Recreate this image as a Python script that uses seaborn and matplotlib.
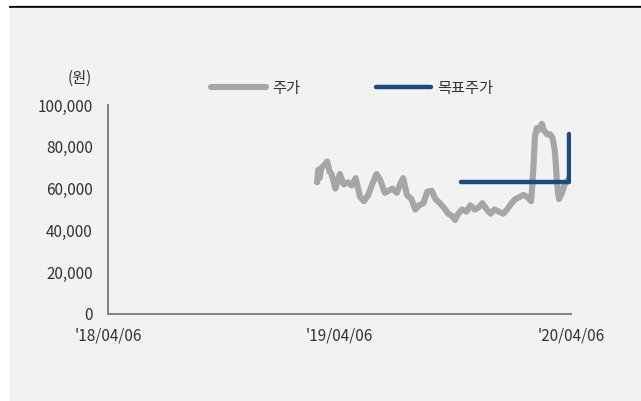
import pandas as pd
import numpy as np
import seaborn as sns
import matplotlib.pyplot as plt
from matplotlib.patches import Rectangle
from matplotlib.lines import Line2D

# 주가
price_dates = ['2019-03-02', '2019-03-04', '2019-03-06', '2019-03-09', '2019-03-13', '2019-03-18', '2019-03-22',
               '2019-03-25', '2019-03-31', '2019-04-07', '2019-04-13', '2019-04-20', '2019-04-26',
               '2019-05-02', '2019-05-09', '2019-05-15', '2019-05-22', '2019-05-28', '2019-06-04',
               '2019-06-10', '2019-06-17', '2019-06-23', '2019-06-29', '2019-07-06', '2019-07-11',
               '2019-07-16', '2019-07-22', '2019-07-29', '2019-08-04', '2019-08-10', '2019-08-17',
               '2019-08-23', '2019-08-30', '2019-09-05', '2019-09-12', '2019-09-18', '2019-09-25',
               '2019-10-01', '2019-10-06', '2019-10-11', '2019-10-17', '2019-10-24', '2019-10-30',
               '2019-11-06', '2019-11-12', '2019-11-18', '2019-11-25', '2019-12-01', '2019-12-07',
               '2019-12-14', '2019-12-21', '2019-12-27', '2020-01-03', '2020-01-09', '2020-01-16',
               '2020-01-22', '2020-01-28', '2020-02-03', '2020-02-05', '2020-02-07', '2020-02-09',
               '2020-02-12', '2020-02-15', '2020-02-20', '2020-02-23', '2020-02-28', '2020-03-04',
               '2020-03-08', '2020-03-11', '2020-03-13', '2020-03-15', '2020-03-18', '2020-03-23',
               '2020-03-27', '2020-04-01', '2020-04-03']
price_values = [63000, 69000, 65000, 70000, 71000, 73000, 68000,
                67000, 60000, 67000, 62000, 63000, 61500,
                65000, 56000, 54000, 57000, 62000, 67000,
                64000, 58000, 59000, 60000, 58000, 62000,
                65000, 57000, 55000, 50000, 52000, 53000,
                58500, 59000, 55000, 53000, 51000, 48000,
                47000, 45000, 48000, 50000, 49000, 52000,
                50000, 51000, 53000, 50000, 48000, 50000,
                49000, 48000, 50000, 53000, 55000, 56000,
                57000, 56000, 54000, 62000, 72000, 85000,
                89000, 88000, 91000, 88000, 86000, 86000,
                84000, 79000, 72000, 62000, 55000, 58000,
                62000, 64000, 65000]

# 목표주가
target_dates = ['2019-10-16', '2020-04-03', '2020-04-03']
target_values = [63000, 63000, 86000]

price = pd.DataFrame({'date': pd.to_datetime(price_dates), 'value': price_values})
target = pd.DataFrame({'date': pd.to_datetime(target_dates), 'value': target_values})

sns.set_style('white')
plt.rcParams['font.family'] = ['Noto Sans CJK KR', 'DejaVu Sans']

fig = plt.figure(figsize=(6.41, 4.01), dpi=100)
fig.patch.set_facecolor('white')
# light gray panel and black rule at the top
fig.patches.append(Rectangle((10 / 641, 0), 1 - 10 / 641, 1 - 8 / 401,
                             transform=fig.transFigure, color='#f2f2f2', zorder=-10))
fig.lines.append(Line2D([10 / 641, 1], [1 - 6.5 / 401, 1 - 6.5 / 401],
                        transform=fig.transFigure, color='black', lw=1.6, zorder=-10))

ax = fig.add_axes([108 / 641, 1 - 314 / 401, (571 - 108) / 641, (314 - 105) / 401])
ax.set_facecolor('none')
ax.set_zorder(5)

sns.lineplot(data=price, x='date', y='value', ax=ax, color='#a6a6a6', lw=4.4,
             solid_capstyle='round', solid_joinstyle='round', label='주가')
sns.lineplot(data=target, x='date', y='value', ax=ax, color='#1f4a7e', lw=3.2,
             estimator=None, sort=False, solid_capstyle='round', label='목표주가')

ax.set_xlim(pd.Timestamp('2018-04-06'), pd.Timestamp('2020-04-06'))
ax.set_ylim(0, 100000)
ax.set_xticks(pd.to_datetime(['2018-04-06', '2019-04-06', '2020-04-06']))
ax.set_xticklabels(["'18/04/06", "'19/04/06", "'20/04/06"])
ax.set_yticks(np.arange(0, 100001, 20000))
ax.set_yticklabels([f'{v:,}' for v in range(0, 100001, 20000)])
ax.set_xlabel('')
ax.set_ylabel('')

for s in ['top', 'right']:
    ax.spines[s].set_visible(False)
for s in ['left', 'bottom']:
    ax.spines[s].set_color('#808080')
    ax.spines[s].set_linewidth(1.4)
ax.tick_params(axis='both', colors='#808080', length=4, width=1.2, labelsize=11,
               labelcolor='#333333', direction='out')
ax.tick_params(axis='y', pad=7)
ax.tick_params(axis='x', pad=6)

ax.text(-0.035, 1.13, '(원)', transform=ax.transAxes, ha='right', va='center',
        fontsize=11, color='#333333')

ax.get_legend().remove()
fig.legend(handles=ax.get_lines()[:2], labels=['주가', '목표주가'], ncol=2,
           loc='center', bbox_to_anchor=(352 / 641, 1 - 88 / 401), frameon=False,
           fontsize=11, handlelength=3.6, handletextpad=0.4, columnspacing=5.0,
           labelcolor='#333333')

plt.savefig('out.png', dpi=100, facecolor=fig.get_facecolor())
